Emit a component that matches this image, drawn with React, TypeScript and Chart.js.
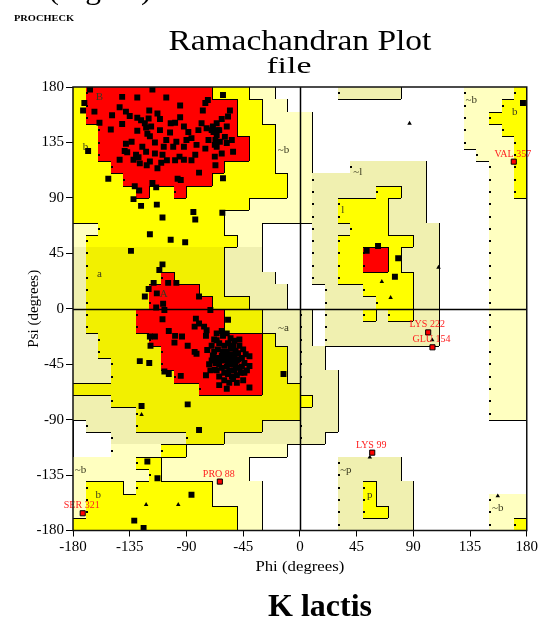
import React, { useEffect, useRef } from "react";
import { Chart, registerables } from "chart.js";

Chart.register(...registerables);

const AXIS_TICKS = [-180, -135, -90, -45, 0, 45, 90, 135, 180];

// 10-degree region grid. Rows: psi 180 (top) -> -180, columns: phi -180 -> 180.
// R most favoured, Y/y additional allowed, L/b generously allowed, B generously allowed (l/p family), W disallowed
const REGION_GRID = [
  "YRRRRRRRRRRYYYLLWWWWWBBBBBWWWWWLLLLY",
  "YRRRRRRRRRRRRYYLLWWWWWWWWWWWWWWLLLYY",
  "YRRRRRRRRRRRRYYLLLLWWWWWWWWWWWWLLYYY",
  "YYRRRRRRRRRRRYYYLLLWWWWWWWWWWWWLLLYY",
  "YYRRRRRRRRRRRRYYLLLWWWWWWWWWWWWLLLLY",
  "YYRRRRRRRRRRRRYYLLLWWWWWWWWWWWWWLLLY",
  "YYYRRRRRRRRRYYYYLLLWWWBBBBBBWWWWWLLY",
  "YYYYRRRRRRRYYYYYYLLBBBBBBBBBWWWWWLLY",
  "YYYYYRYYRYYYYYYYYLLBBBBBYYBBWWWWWLLY",
  "YYYYYYYYYYYYYYLLLLLBBYYYYBBBWWWWWLLL",
  "YYYYYYYYYYYYLLLLLLLBBYYYYBBBWWWWWLLL",
  "LLYYYYYYYYYYLLLWWWWBBBYYYBBBBWWWWLLL",
  "LYYYYYYYYYYYYLLWWWWBBYYYYYYBBWWWWLLL",
  "byyyyyyyyyyybbbWWWWBBYYRRYBBBWWWWLLL",
  "byyyyyyyyyyybbbWWWWBBYYRRYBBBWWWWLLL",
  "byyyyyyRyyyybbbbWWWBBYYYYYYBBWWWWLLL",
  "byyyyyRRRRyybbbbbWWWBBBYYYYBBWWWWLLL",
  "byyyyyRRRRRyyybbbWWWBBBBYYYBBWWWWLLL",
  "byyyyRRRRRRRyyybbbBWBBBYBYYBBWWWWLLL",
  "byyyyRRRRRRRyyybbbBWBBBBBBBBBWWWWLLL",
  "bbyyyyRRRRRRRRRybbBWBBBBBBBBBWWWWLLL",
  "bbyyyyyRRRRRRRRyybBBWWWWWWWWWWWWWLLL",
  "bbbyyyyRRRRRRRRyybBBWWWWWWWWWWWWWLLL",
  "bbbyyyyyRRRRRRRyybBBBWWWWWWWWWWWWLLL",
  "yyyyyyyyyyRRRRRyyyBBBWWWWWWWWWWWWLLL",
  "bbbyyyyyyyyyyyyyyyYBBWWWWWWWWWWWWLLL",
  "bbbbbyyyyyyyyyyyyyBBBWWWWWWWWWWWWLLL",
  "WbbbbyyyyyyyyyybbbBBBWWWWWWWWWWWWWWW",
  "WWWbbbbbbyyybbbbbbBBWWWWWWWWWWWWWWWW",
  "WWWLLLLYYLLLLLLLLWWWWWWWWWWWWWWWWWWW",
  "LLLLLYYLLLLLLLWWWWWWWBBBBBWWWWWWWWWW",
  "LLLLLLYLLLLLLLWWWWWWWBBBBBWWWWWWWWWW",
  "LYYYLYYYYYYLLLLWWWWWWBBYBBBWWWWWWWWW",
  "LYYYYYYYYYYLLLLWWWWWWBBYBBBWWWWWWLLL",
  "LYYYYYYYYYYYYLLWWWWWWBBYYBBWWWWWWLLL",
  "YYYYYYYYYYYYYLLWWWWWWBBBBBBWWWWWWLLY",
];

const REGION_COLORS: Record<string, string> = {
  R: "#ff0000",
  Y: "#ffff00",
  y: "#f2f000",
  L: "#ffffc0",
  b: "#f0f0b0",
  B: "#f0f0b0",
  W: "",
};
const REGION_CATEGORY: Record<string, string> = { R: "R", Y: "Y", y: "Y", L: "L", b: "L", B: "B", W: "W" };
const REGION_RANK: Record<string, number> = { R: 3, Y: 2, L: 1, B: 1, W: 0 };

// Non-glycine residues (phi, psi)
const RESIDUE_PHI_PSI: [number, number][] = [
  [-166.5, 178], [-171, 167], [-172, 161], [-163, 160], [-159, 151], [-141, 172], [-129, 171.5], [-117, 178],
  [-106, 171.5], [-95, 165], [-73, 169.5], [-75, 167], [-77, 161], [-149, 157], [-143, 163.5], [-138, 160],
  [-135, 156.5], [-141, 150], [-150, 145.5], [-129, 155], [-119.5, 161], [-120, 154.5], [-113, 158.5], [-111, 154],
  [-123, 150.5], [-122, 147], [-121, 142], [-119, 140], [-129, 144.5], [-138, 134], [-139, 128], [-133.5, 135.5],
  [-137, 127], [-143, 121], [-132, 121], [-128, 123], [-127, 118], [-121.5, 116.5], [-119, 119.5], [-113, 114],
  [-110, 118.5], [-109, 125], [-108, 131.5], [-106, 137], [-103, 143], [-102.5, 150.5], [-99, 151], [-95, 155.5],
  [-92, 148], [-88.5, 143.5], [-90, 137], [-92, 131.5], [-95.5, 123.5], [-99, 120.5], [-92, 121], [-86, 120.5],
  [-83, 125], [-80.5, 145], [-78, 150.5], [-74, 146.5], [-68.5, 143.5], [-67, 137], [-66, 131.5], [-67, 116.5],
  [-80, 110.5], [-97, 105.5], [-94.5, 104.5], [-152, 105.5], [-131, 99.5], [-127.5, 96], [-114, 98.5], [-117, 102],
  [-132, 89], [-126, 83.5], [-113.5, 84.5], [-109, 74], [-84.5, 78.5], [-83, 72.5], [-119, 60.5], [-168, 128],
  [-126, 153], [-118, 148], [-115, 135], [-111, 145], [-125, 131.5], [-122, 127.5], [-115, 126], [-130, 125],
  [-105.5, 120.5], [-100.5, 131.5], [-98, 135.5], [-86, 138.5], [-82, 133], [-75, 130], [-72.5, 137], [-66, 150.5],
  [-64, 145], [-61, 173.5], [-55.5, 161], [-57, 156], [-69, 148], [-65, 145], [-66, 141], [-59.5, 139.5],
  [-63.5, 135.5], [-58, 134.5], [-54, 137], [-53, 127.5], [-62, 126], [-67.5, 123.5], [-61, 106], [-61.5, 78],
  [-70, 145], [-67.5, 133], [-58, 148], [-62, 154], [177, 167],
  [-102.5, 56], [-91, 54], [-134, 47], [-109, 36], [-111.5, 31.5], [-116, 21], [-104.5, 21], [-98, 21],
  [-120, 16], [-123, 10], [-113.5, 12.5], [-80, 10], [-114, 1], [-108.5, 4], [-107.5, -1], [-71, -1],
  [-109, -8.5], [-119, -22.5], [-115, -22.5], [-118.5, -30], [-104, -18], [-99, -22], [-93.5, -22.5], [-99.5, -27.5],
  [-89, -30], [-82.5, -8], [-80, -12], [-83.5, -14.5], [-76, -14.5], [-74, -17.5], [-74.5, -22], [-83.5, -35],
  [-82, -36.5], [-73.5, -33.5], [-66, -25.5], [-127, -42.5], [-119.5, -44], [-107.5, -51], [-104, -53], [-94.5, -54.5],
  [-74.5, -54], [-69, -38.5], [-67.5, -49.5], [-57, -9], [-40, -38.5], [-40, -46.5], [-13, -53], [-40, -64],
  [-70, -30], [-68, -35], [-66, -40], [-64, -45], [-62, -38], [-60, -42], [-58, -35], [-56, -40],
  [-54, -45], [-52, -38], [-50, -42], [-48, -48], [-46, -40], [-44, -44], [-60, -30], [-57, -28],
  [-55, -32], [-53, -30], [-51, -34], [-49, -36], [-62, -48], [-60, -52], [-58, -47], [-56, -50],
  [-54, -55], [-52, -50], [-50, -54], [-66, -50], [-64, -55], [-70, -42], [-72, -45], [-68, -25],
  [-64, -28], [-61, -22], [-58, -20], [-55, -24], [-52, -26], [-48, -30], [-45, -33], [-43, -37],
  [-47, -52], [-45, -58], [-42, -50], [-56, -60], [-60, -58], [-65, -33], [-63, -41], [-59, -39],
  [-57, -44], [-55, -37], [-53, -42], [-51, -46], [-49, -41], [-61, -35], [-67, -44], [-69, -38],
  [-57, -53], [-53, -57], [-46, -47], [-64, -62], [-58, -65], [-50, -60], [-44, -52], [-71, -50],
  [-62, -18], [-48, -25], [-66, -20],
  [-125.6, -79], [-89, -77.6], [-80, -98.4], [-121, -124], [-113, -137.6], [-86, -151], [-131.4, -172], [-124, -178],
  [53, 47], [62, 51], [78, 41], [75.4, 26],
];

// Glycine residues (phi, psi)
const GLYCINE_PHI_PSI: [number, number][] = [
  [-125.6, -86], [-122, -159], [-96.5, -159], [87, 150.5], [65, 22], [72, 9], [110, 33.6], [105, -25.4],
  [157, -152], [55.5, -120.6],
];

// Residues in disallowed / generous regions
const FLAGGED_NAMES = ["VAL 357", "LYS 222", "GLU 154", "LYS 99", "PRO 88", "SER 321"];
const FLAGGED_PHI = [169.7, 101.8, 105.2, 57.4, -63.5, -172.3];
const FLAGGED_PSI = [119.4, -19.2, -31.3, -116.8, -140.3, -166];

// Region labels
const REGION_LABEL_TEXT = ["B", "b", "A", "a", "~a", "~b", "~b", "b", "l", "~l", "~p", "p", "~b", "b", "~b"];
const REGION_LABEL_PHI = [-159, -170, -108, -159, -13, -13, 136, 170.5, 34, 46, 36.5, 55.5, -174, -160, 157];
const REGION_LABEL_PSI = [172, 131, 12, 28, -16, 129, 169, 160, 80, 111, -131, -151, -131, -151, -162];

const SERIF = '"Liberation Serif", "Times New Roman", serif';

function drawFitted(
  ctx: CanvasRenderingContext2D,
  text: string,
  cx: number,
  baseline: number,
  font: string,
  width: number | null,
  color = "#000"
) {
  ctx.save();
  ctx.font = font;
  ctx.fillStyle = color;
  ctx.textAlign = "left";
  ctx.textBaseline = "alphabetic";
  const w = ctx.measureText(text).width;
  const sx = width ? width / w : 1;
  ctx.translate(cx - (w * sx) / 2, baseline);
  ctx.scale(sx, 1);
  ctx.fillText(text, 0, 0);
  ctx.restore();
}

const ramaPlugin = {
  id: "rama",
  beforeDatasetsDraw(chart: any) {
    const { ctx, chartArea: a, scales } = chart;
    const xs = scales.x;
    const ys = scales.y;
    const px = (v: number) => xs.getPixelForValue(v);
    const py = (v: number) => ys.getPixelForValue(v);
    ctx.save();
    for (let r = 0; r < REGION_GRID.length; r++) {
      const row = REGION_GRID[r];
      for (let c = 0; c < row.length; c++) {
        const color = REGION_COLORS[row[c]];
        if (!color) continue;
        const x0 = Math.round(px(-180 + 10 * c));
        const x1 = Math.round(px(-170 + 10 * c));
        const y0 = Math.round(py(180 - 10 * r));
        const y1 = Math.round(py(170 - 10 * r));
        ctx.fillStyle = color;
        ctx.fillRect(x0, y0, x1 - x0, y1 - y0);
      }
    }
    const cat = (ch: string) => REGION_CATEGORY[ch];
    const rank = (ch: string) => REGION_RANK[cat(ch)];
    const dots: [number, number][] = [];
    ctx.strokeStyle = "#000";
    ctx.lineWidth = 1;
    ctx.beginPath();
    for (let r = 0; r < 36; r++) {
      for (let c = 0; c < 35; c++) {
        const left = REGION_GRID[r][c];
        const right = REGION_GRID[r][c + 1];
        if (cat(left) === cat(right)) continue;
        const xb = Math.round(px(-170 + 10 * c)) + 0.5;
        const yt = Math.round(py(180 - 10 * r));
        const yb = Math.round(py(170 - 10 * r));
        if (rank(left) > rank(right)) {
          ctx.moveTo(xb, yt);
          ctx.lineTo(xb, yb);
        } else {
          dots.push([xb, (yt + yb) / 2]);
        }
      }
    }
    for (let r = 0; r < 35; r++) {
      for (let c = 0; c < 36; c++) {
        const above = REGION_GRID[r][c];
        const below = REGION_GRID[r + 1][c];
        if (cat(above) === cat(below) || cat(above) === "W") continue;
        const yb = Math.round(py(170 - 10 * r)) + 0.5;
        ctx.moveTo(Math.round(px(-180 + 10 * c)), yb);
        ctx.lineTo(Math.round(px(-170 + 10 * c)), yb);
      }
    }
    ctx.stroke();
    ctx.fillStyle = "#000";
    for (const [x, y] of dots) ctx.fillRect(Math.round(x - 1), Math.round(y - 1), 2, 2);
    ctx.lineWidth = 1.5;
    ctx.beginPath();
    const x0 = Math.round(px(0)) + 0.5;
    const y0 = Math.round(py(0)) + 0.5;
    ctx.moveTo(x0, a.top);
    ctx.lineTo(x0, a.bottom);
    ctx.moveTo(a.left, y0);
    ctx.lineTo(a.right, y0);
    ctx.stroke();
    ctx.font = `11px ${SERIF}`;
    ctx.fillStyle = "#3a3a20";
    ctx.textAlign = "center";
    ctx.textBaseline = "middle";
    REGION_LABEL_TEXT.forEach((t, i) => {
      ctx.fillText(t, px(REGION_LABEL_PHI[i]), py(REGION_LABEL_PSI[i]));
    });
    ctx.restore();
  },
  afterDatasetsDraw(chart: any) {
    const { ctx, chartArea: a, scales } = chart;
    const xs = scales.x;
    const ys = scales.y;
    ctx.save();
    FLAGGED_NAMES.forEach((name, i) => {
      const x = xs.getPixelForValue(FLAGGED_PHI[i]);
      const y = ys.getPixelForValue(FLAGGED_PSI[i]);
      drawFitted(ctx, name, x - 1, y - 5, `10px ${SERIF}`, null, "#ff2020");
    });
    ctx.strokeStyle = "#111";
    ctx.lineWidth = 1.5;
    ctx.strokeRect(a.left, a.top, a.right - a.left, a.bottom - a.top);
    ctx.restore();
  },
  afterDraw(chart: any) {
    const { ctx, chartArea: a } = chart;
    const cx = (a.left + a.right) / 2;
    drawFitted(ctx, "(Figure)", 100, -1, `30px ${SERIF}`, 103);
    drawFitted(ctx, "PROCHECK", 44, 21, `bold 9px ${SERIF}`, 60);
    drawFitted(ctx, "Ramachandran Plot", cx, 50, `30px ${SERIF}`, 263);
    drawFitted(ctx, "file", cx - 11, 73, `24px ${SERIF}`, 45);
    drawFitted(ctx, "Phi (degrees)", cx, 571, `14px ${SERIF}`, 89);
    drawFitted(ctx, "K lactis", 320, 616, `bold 32px ${SERIF}`, null);
    ctx.save();
    ctx.translate(38, (a.top + a.bottom) / 2);
    ctx.rotate(-Math.PI / 2);
    drawFitted(ctx, "Psi (degrees)", 0, 0, `15px ${SERIF}`, null);
    ctx.restore();
  },
};

export default function App() {
  const canvasRef = useRef<HTMLCanvasElement | null>(null);

  useEffect(() => {
    const canvas = canvasRef.current;
    if (!canvas) return;
    const tickFont = { family: SERIF, size: 15 };
    const chart = new Chart(canvas, {
      type: "scatter",
      data: {
        datasets: [
          {
            label: "Residues",
            data: RESIDUE_PHI_PSI.map(([x, y]) => ({ x, y })),
            pointStyle: "rect",
            pointRadius: 4.2,
            backgroundColor: "#000",
            borderColor: "#000",
            borderWidth: 0,
          },
          {
            label: "Glycine",
            data: GLYCINE_PHI_PSI.map(([x, y]) => ({ x, y })),
            pointStyle: "triangle",
            pointRadius: 2.6,
            backgroundColor: "#000",
            borderColor: "#000",
            borderWidth: 0,
          },
          {
            label: "Flagged",
            data: FLAGGED_PHI.map((x, i) => ({ x, y: FLAGGED_PSI[i] })),
            pointStyle: "rect",
            pointRadius: 3.6,
            backgroundColor: "#ff0000",
            borderColor: "#000",
            borderWidth: 1,
          },
        ],
      },
      options: {
        responsive: false,
        maintainAspectRatio: false,
        animation: false,
        events: [],
        layout: { padding: { left: 0, right: 13, top: 87, bottom: 47.5 } },
        plugins: { legend: { display: false }, tooltip: { enabled: false }, title: { display: false } },
        scales: {
          x: {
            type: "linear",
            min: -180,
            max: 180,
            afterBuildTicks: (s: any) => {
              s.ticks = AXIS_TICKS.map((value) => ({ value }));
            },
            afterFit: (s: any) => {
              s.height = 40;
            },
            ticks: {
              font: tickFont,
              color: "#000",
              padding: 2,
              maxRotation: 0,
              autoSkip: false,
              callback: (v: any) => String(v),
            },
            grid: { drawOnChartArea: false, drawTicks: true, tickLength: 6, color: "#000" },
            border: { display: true, color: "#000" },
          },
          y: {
            type: "linear",
            min: -180,
            max: 180,
            afterBuildTicks: (s: any) => {
              s.ticks = AXIS_TICKS.map((value) => ({ value }));
            },
            afterFit: (s: any) => {
              s.width = 73;
            },
            ticks: {
              font: tickFont,
              color: "#000",
              padding: 2,
              autoSkip: false,
              callback: (v: any) => String(v),
            },
            grid: { drawOnChartArea: false, drawTicks: true, tickLength: 7, color: "#000" },
            border: { display: true, color: "#000" },
          },
        },
      } as any,
      plugins: [ramaPlugin],
    });
    return () => chart.destroy();
  }, []);

  return (
    <div style={{ position: "absolute", left: 0, top: 0, width: 540, height: 618, background: "#fff" }}>
      <canvas ref={canvasRef} width={540} height={618} style={{ display: "block" }} />
    </div>
  );
}
